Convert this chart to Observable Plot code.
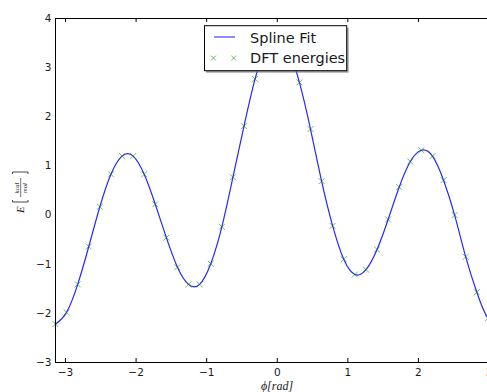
<!DOCTYPE html>
<html>
<head>
<meta charset="utf-8">
<script src="https://cdn.jsdelivr.net/npm/d3@7"></script>
<script src="https://cdn.jsdelivr.net/npm/@observablehq/plot@0.6"></script>
<style>
  html, body { margin: 0; padding: 0; overflow: hidden; background: white; }
  #chart { width: 487px; height: 392px; overflow: hidden; }
  #chart svg { max-width: none !important; }
</style>
</head>
<body>
<div id="chart"></div>
<script>
// Dihedral angle samples (rad)
const phi = [-3.142, -2.985, -2.827, -2.670, -2.513, -2.356, -2.199, -2.042, -1.885, -1.728,
             -1.571, -1.414, -1.257, -1.100, -0.942, -0.785, -0.628, -0.471, -0.314, -0.157,
              0.000,  0.157,  0.314,  0.471,  0.628,  0.785,  0.942,  1.100,  1.257,  1.414,
              1.571,  1.728,  1.885,  2.042,  2.199,  2.356,  2.513,  2.670,  2.827,  2.985, 3.142];
// DFT energies (kcal/mol)
const energy = [-2.22, -1.98, -1.41, -0.64, 0.17, 0.83, 1.20, 1.20, 0.83, 0.22,
                -0.46, -1.06, -1.41, -1.41, -0.99, -0.24, 0.77, 1.81, 2.77, 3.42,
                 3.65, 3.38, 2.70, 1.75, 0.69, -0.22, -0.90, -1.21, -1.11, -0.70,
                -0.09, 0.57, 1.09, 1.32, 1.20, 0.71, 0.00, -0.85, -1.57, -2.10, -2.22];
const xTicks = [-3, -2, -1, 0, 1, 2, 3];
const yTicks = [-3, -2, -1, 0, 1, 2, 3, 4];
const seriesNames = ["Spline Fit", "DFT energies"];

const data = phi.map((p, i) => ({phi: p, E: energy[i]}));

const W = 510, H = 392, mL = 55, mR = 11.5, mT = 18, mB = 30;
const innerH = H - mT - mB;

const chart = Plot.plot({
  width: W, height: H,
  marginLeft: mL, marginRight: mR, marginTop: mT, marginBottom: mB,
  x: {domain: [-Math.PI, Math.PI]},
  y: {domain: [-3, 4]},
  style: {fontFamily: "DejaVu Sans", fontSize: "10.5px", color: "#1a1a1a", background: "white", maxWidth: "none"},
  marks: [
    Plot.line(data, {x: "phi", y: "E", curve: "natural", stroke: "#0000ff", strokeWidth: 1.2, strokeOpacity: 0.85}),
    Plot.dot(data, {x: "phi", y: "E", symbol: "times", r: 2.8, stroke: "#008000", strokeOpacity: 0.55, strokeWidth: 1}),
    Plot.tickX(xTicks, {x: d => d, insetTop: innerH - 4, stroke: "black"}),
    Plot.tickX(xTicks, {x: d => d, insetBottom: innerH - 4, stroke: "black"}),
    Plot.axisX(xTicks, {anchor: "bottom", tickSize: 0, tickPadding: 6, label: null}),
    Plot.axisY(yTicks, {anchor: "left", tickSize: 0, tickPadding: 4, label: null}),
    Plot.frame({stroke: "black"})
  ]
});
document.getElementById("chart").appendChild(chart);

const svg = d3.select(chart);

// x label
svg.append("text")
  .attr("x", 277).attr("y", 390)
  .attr("text-anchor", "middle")
  .attr("font-family", "Liberation Serif")
  .attr("font-style", "italic")
  .attr("font-size", 12)
  .attr("fill", "#1a1a1a")
  .text("ϕ[rad]");

// y label E[kcal/mol]
const yl = svg.append("g").attr("transform", "translate(20,193) rotate(-90)")
  .attr("fill", "#1a1a1a").attr("font-family", "Liberation Serif").attr("font-style", "italic")
  .attr("text-anchor", "start");
yl.append("text").attr("x", -20).attr("y", 3.5).attr("font-size", 11).text("E");
yl.append("path").attr("d", "M-7,-7.5H-9V8H-7M19,-7.5H21V8H19").attr("fill", "none").attr("stroke", "#1a1a1a").attr("stroke-width", 0.8);
yl.append("text").attr("x", 5).attr("y", -1.5).attr("text-anchor", "middle").attr("font-size", 6.5).text("kcal");
yl.append("line").attr("x1", -4).attr("x2", 15).attr("y1", 0.7).attr("y2", 0.7).attr("stroke", "#1a1a1a").attr("stroke-width", 0.6);
yl.append("text").attr("x", 5).attr("y", 6.5).attr("text-anchor", "middle").attr("font-size", 6.5).text("mol");

// legend
const lg = svg.append("g").attr("text-anchor", "start");
lg.append("rect").attr("x", 206).attr("y", 27.7).attr("width", 142.7).attr("height", 45).attr("fill", "#777").attr("fill-opacity", 0.7);
lg.append("rect").attr("x", 204.5).attr("y", 25.7).attr("width", 142.2).attr("height", 45).attr("fill", "white").attr("stroke", "black").attr("stroke-width", 1);
lg.append("line").attr("x1", 214).attr("x2", 235).attr("y1", 37).attr("y2", 37).attr("stroke", "#0000ff").attr("stroke-opacity", 0.6).attr("stroke-width", 1.5);
[213.5, 233.7].forEach(cx => {
  lg.append("path").attr("d", `M${cx-2.5},55.5L${cx+2.5},60.5M${cx-2.5},60.5L${cx+2.5},55.5`)
    .attr("stroke", "#008000").attr("stroke-opacity", 0.55).attr("fill", "none");
});
lg.append("text").attr("x", 250).attr("y", 42.5).attr("font-family", "DejaVu Sans").attr("font-size", 14.5).attr("fill", "#1a1a1a").text(seriesNames[0]);
lg.append("text").attr("x", 250).attr("y", 63).attr("font-family", "DejaVu Sans").attr("font-size", 14.5).attr("fill", "#1a1a1a").text(seriesNames[1]);
</script>
</body>
</html>
